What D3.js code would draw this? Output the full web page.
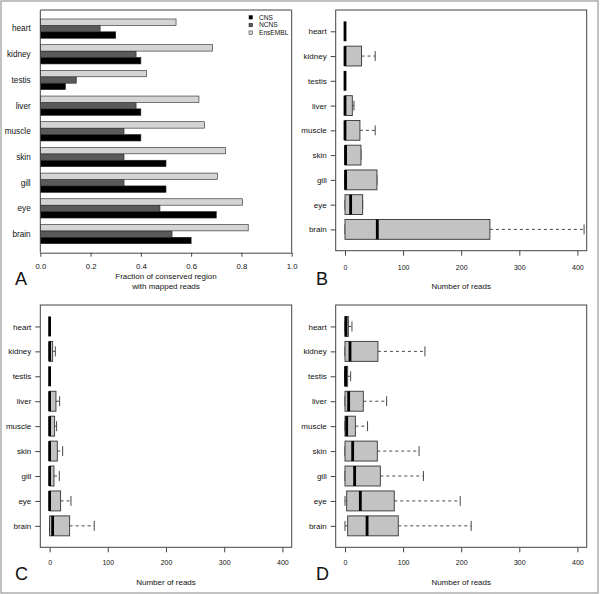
<!DOCTYPE html>
<html><head><meta charset="utf-8">
<script src="https://cdn.jsdelivr.net/npm/d3@7"></script>
<style>
body{margin:0;background:#fff;}
svg{display:block;font-family:"Liberation Sans",Arial,Helvetica,sans-serif;}
</style></head>
<body><svg id="c" width="600" height="594"></svg>
<script>
// ---- data ----
const tissues = ["heart","kidney","testis","liver","muscle","skin","gill","eye","brain"];
const seriesNames = ["CNS","NCNS","EnsEMBL"];
const cns     = [0.30,0.40,0.10,0.40,0.40,0.50,0.50,0.70,0.60];
const ncns    = [0.238,0.381,0.143,0.381,0.333,0.333,0.333,0.476,0.524];
const ensembl = [0.540,0.685,0.422,0.631,0.653,0.737,0.705,0.805,0.827];
const fracTicks = [0,0.2,0.4,0.6,0.8,1.0];
const readTicks = [0,100,200,300,400];
// box stats: [lowWhisker, q1, median, q3, highWhisker], same order as tissues
const statsB = [[0,0,0,0,0],[0,0,0,28.5,52],[0,0,0,0,0],[0,0,0,12.6,15.4],[0,0,0,25.7,52],
                [0,0,1,27.5,27.5],[0,0,1,55,55],[0,0,9.7,30.4,30.4],[0,0,55.6,249.4,411.5]];
const statsC = [[0,0,0,0,0],[0,0,0,5.2,9.8],[0,0,0,0,0],[0,0,0,10.9,17.2],[0,0,0,8.6,12],
                [0,0,0,13.2,22.4],[0,0,0,7.5,16.6],[0,0,0,18.9,36.7],[0,0,5.2,34.4,76.7]];
const statsD = [[0,0,1.7,5.7,12],[0,0,8.6,56.7,137.6],[0,0,1,4.6,9.7],[0,0,6.3,31.5,71.6],[0,0,2.9,17.8,38.8],
                [0,0,13.2,55.6,127.5],[0,0,16.6,60.8,135],[0,2.9,26.4,84.8,198.3],[0,4.6,38,91.7,217.2]];

const svg = d3.select("#c");
const txt = "#111";
// outer frame
svg.append("rect").attr("x",1).attr("y",1).attr("width",597).attr("height",592)
  .attr("fill","none").attr("stroke","#999").attr("stroke-width",1.2);

// ---- Panel A ----
(function(){
  const x0=40.3,x1=291.7,y0=10,y1=252.7;
  const ax = d3.scaleLinear().domain([0,1]).range([x0,x1]);
  const ay = d3.scaleLinear().domain([-0.4,37.4]).range([y1,y0]);
  const g = svg.append("g");
  const series = [
    {vals:cns, fill:"#000", off:1},
    {vals:ncns, fill:"#5a5a5a", off:2},
    {vals:ensembl, fill:"#d4d4d4", off:3}
  ];
  series.forEach(s=>{
    g.selectAll(null).data(tissues).enter().append("rect")
      .attr("x",ax(0))
      .attr("width",(d,i)=>ax(s.vals[i])-ax(0))
      .attr("y",(d,i)=>ay((8-i)*4+s.off+1))
      .attr("height",(d,i)=>ay((8-i)*4+s.off)-ay((8-i)*4+s.off+1))
      .attr("fill",s.fill).attr("stroke","#222").attr("stroke-width",0.6);
  });
  // box (top,left,right)
  g.append("path").attr("d",`M${x0},${y1}V${y0}H${x1}V${y1}`).attr("fill","none").attr("stroke","#444").attr("stroke-width",1);
  // y labels
  g.selectAll(null).data(tissues).enter().append("text")
    .attr("x",x0-9.6).attr("y",(d,i)=>ay((8-i)*4+2.5)).attr("dy","0.35em")
    .attr("text-anchor","end").attr("font-size",8.2).attr("fill",txt).text(d=>d);
  // x axis
  const axis = d3.axisBottom(ax).tickValues(fracTicks).tickFormat(d3.format(".1f")).tickSize(4).tickPadding(6.3).tickSizeOuter(0);
  const ag = g.append("g").attr("transform",`translate(0,${y1})`).call(axis);
  ag.select(".domain").attr("stroke","#444");
  ag.selectAll(".tick line").attr("stroke","#444");
  ag.selectAll("text").attr("font-size",7.8).attr("fill",txt).attr("font-family",null);
  ag.attr("font-family",null);
  g.append("text").attr("x",166).attr("y",279).attr("text-anchor","middle").attr("font-size",8).attr("fill",txt).text("Fraction of conserved region");
  g.append("text").attr("x",166).attr("y",288.5).attr("text-anchor","middle").attr("font-size",8).attr("fill",txt).text("with mapped reads");
  // legend
  const lf = ["#000","#5a5a5a","#d4d4d4"];
  const ly = [17.3,25,32.7];
  seriesNames.forEach((n,i)=>{
    g.append("rect").attr("x",249).attr("y",ly[i]-1.8).attr("width",3.6).attr("height",3.6)
      .attr("fill",lf[i]).attr("stroke","#222").attr("stroke-width",0.5);
    g.append("text").attr("x",259).attr("y",ly[i]).attr("dy","0.35em").attr("font-size",6.6).attr("fill",txt).text(n);
  });
  g.append("text").attr("x",15).attr("y",285).attr("font-size",18).attr("fill",txt).text("A");
})();

// ---- box plot panels ----
function boxPanel(stats, x0,x1,y0,y1, letter, lx, ly, tickBase, titleBase){
  const xs = d3.scaleLinear().domain([-16,416]).range([x0,x1]);
  const ys = d3.scaleLinear().domain([0.14,9.86]).range([y1,y0]);
  const g = svg.append("g");
  const hw = (ys(0)-ys(0.4)); // half box height
  const pos = i => ys(9-i);
  stats.forEach((s,i)=>{
    const [lo,q1,med,q3,hi] = s;
    const cy = pos(i);
    // whiskers
    g.append("line").attr("x1",xs(q3)).attr("x2",xs(hi)).attr("y1",cy).attr("y2",cy)
      .attr("stroke","#333").attr("stroke-width",0.9).attr("stroke-dasharray","3,3");
    g.append("line").attr("x1",xs(lo)).attr("x2",xs(q1)).attr("y1",cy).attr("y2",cy)
      .attr("stroke","#333").attr("stroke-width",0.9).attr("stroke-dasharray","3,3");
    [lo,hi].forEach(v=>{
      g.append("line").attr("x1",xs(v)).attr("x2",xs(v)).attr("y1",cy-hw/2).attr("y2",cy+hw/2)
        .attr("stroke","#333").attr("stroke-width",0.9);
    });
    g.append("rect").attr("x",xs(q1)).attr("width",xs(q3)-xs(q1)).attr("y",cy-hw).attr("height",2*hw)
      .attr("fill","#c3c3c3").attr("stroke","#333").attr("stroke-width",0.9);
    g.append("line").attr("x1",xs(med)).attr("x2",xs(med)).attr("y1",cy-hw).attr("y2",cy+hw)
      .attr("stroke","#000").attr("stroke-width",2.8);
  });
  g.append("rect").attr("x",x0).attr("y",y0).attr("width",x1-x0).attr("height",y1-y0)
    .attr("fill","none").attr("stroke","#444").attr("stroke-width",1);
  // y axis
  const yax = d3.axisLeft(d3.scaleOrdinal().domain(tissues).range(tissues.map((d,i)=>pos(i))))
     .tickSize(5).tickPadding(4);
  const yg = g.append("g").attr("transform",`translate(${x0},0)`).call(yax);
  yg.attr("font-family",null);
  yg.select(".domain").remove();
  yg.selectAll(".tick line").attr("stroke","#444");
  yg.selectAll("text").attr("font-size",8).attr("fill",txt);
  // x axis
  const xax = d3.axisBottom(xs).tickValues(readTicks).tickFormat(d3.format("d")).tickSize(5).tickPadding(tickBase-y1-5-5);
  const xg = g.append("g").attr("transform",`translate(0,${y1})`).call(xax);
  xg.attr("font-family",null);
  xg.select(".domain").remove();
  xg.selectAll(".tick line").attr("stroke","#444");
  xg.selectAll("text").attr("font-size",7).attr("fill",txt);
  g.append("text").attr("x",(x0+x1)/2).attr("y",titleBase).attr("text-anchor","middle").attr("font-size",8).attr("fill",txt).text("Number of reads");
  g.append("text").attr("x",lx).attr("y",ly).attr("font-size",18).attr("fill",txt).text(letter);
}
boxPanel(statsB, 335.7,586.7,10,250.7, "B", 316, 285, 270, 288.5);
boxPanel(statsC, 40.3,291.7,305,547.3, "C", 15, 580, 565, 584.5);
boxPanel(statsD, 335.7,586.7,305,547.3, "D", 316, 579.5, 565, 584.5);
</script></body></html>
